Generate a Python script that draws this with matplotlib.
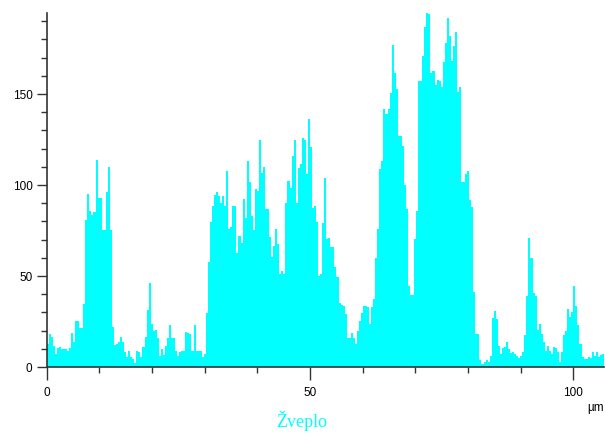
import matplotlib
matplotlib.use('Agg')
import matplotlib.pyplot as plt
import matplotlib.ticker as ticker
import numpy as np

# line scan, sulphur counts (left to right)
seg1 = [12.6, 18, 16.7, 11.7, 7.1, 10.3, 11, 10, 10, 10, 8.6, 10.3, 18.5, 13.9, 25, 25.5,
        21.6, 21.6, 34.6, 81, 95, 85.5, 83.7, 85, 113.7, 92.9, 92.9, 75.3, 75.3, 96, 109.7,
        75, 21.8, 12, 12.6, 14, 16.5, 14, 8, 5.3, 9, 5.3, 4.4, 2, 9, 8]
seg2 = [5.3, 11, 16.5, 31.5, 46, 23.6, 20, 20.3, 15.8, 6.2, 10, 6.8, 11.7, 15.8, 23, 15.8,
        15.8, 8.9, 6.2, 8, 8.6, 8.8, 19.4, 18.5, 18, 8.6, 23, 8.8, 8.8, 8.6, 5.3, 7, 29.7,
        57.5, 79.5, 88.6, 94.5, 96.3, 94.1, 90, 94, 88.3, 107.7, 75.8, 76.7, 88.6]
seg3 = [88.6, 62.6, 71.8, 68, 92.3, 81.9, 113, 101.8, 83, 75.3, 97.8, 96.9, 124.9, 106.6,
        109.7, 86.8, 86.8, 71.2, 60.3, 66.7, 75.8, 67.6, 51.1, 52.9, 51.1, 90.1, 102.4, 98.2,
        115.8, 124.9, 90.1, 109.2, 111.5, 125.6, 124.9, 106, 136.3, 120.7, 87.2, 88.6, 79.5,
        50.2, 51.1, 79.2, 103.7]
seg4 = [70.3, 70.7, 65.8, 65.8, 54.8, 49.3, 35.2, 34, 33.3, 29.1, 15.8, 15.8, 18.7, 15.8,
        12.6, 19.9, 25.5, 29.7, 33.7, 33.3, 32.8, 23.6, 32.8, 37.4, 59.7, 75.8, 108.8, 113.4,
        141.8, 139, 141.8, 150.4, 176.9, 161.5, 152.7, 126.8, 126.8, 121.3, 100, 86.8, 44.7,
        39.6, 39.6, 70.3, 85.9]
seg5 = [157.3, 157.3, 170.6, 186.6, 194.5, 193.9, 161.3, 162.8, 155, 157.9, 157, 154, 167.4,
        178, 191.6, 182, 168.3, 176.5, 183.9, 150.9, 153.7, 101.8, 101.8, 106, 107.9, 91.9,
        87.7, 41, 18.1, 18.1, 4, 1.6, 2.6, 4, 3, 6.2, 26.7, 30.9, 26.4, 11.7, 7.1, 10.3,
        10.8, 13.9]
seg6 = [9.9, 7.7, 8, 7.1, 6.2, 4.8, 6.2, 8.4, 17.6, 39.2, 70.7, 59.7, 40.7, 38.8, 20.5, 23.6,
        18.1, 13.5, 9, 11.7, 9, 7.1, 10.8, 10.3, 8.4, 2.9, 8.4, 17.6, 19.9, 31.9, 27.3, 30.4,
        44.7, 33.7, 23.1, 12.6, 5.3, 4.4, 4.2, 5.3, 4.8, 8, 6.2, 8.4, 5.3, 6.6, 7]

counts = np.array(seg1 + seg2 + seg3 + seg4 + seg5 + seg6)
scan_length = 105.8   # um
edges = np.linspace(0, scan_length, len(counts) + 1)

plt.rcParams['font.family'] = ['Liberation Sans', 'DejaVu Sans']

fig = plt.figure(figsize=(6.05, 4.35), dpi=100)
ax = fig.add_axes([46.5 / 605, 67 / 435, 557.5 / 605, 354 / 435])

ax.stairs(counts, edges, fill=True, color='#00ffff', linewidth=0)

ax.set_xlim(0, scan_length)
ax.set_ylim(0, 194.5)

for side in ['top', 'right']:
    ax.spines[side].set_visible(False)
for side in ['left', 'bottom']:
    ax.spines[side].set_color('#333333')
    ax.spines[side].set_linewidth(1.2)

ax.xaxis.set_major_locator(ticker.MultipleLocator(50))
ax.xaxis.set_minor_locator(ticker.MultipleLocator(10))
ax.yaxis.set_major_locator(ticker.MultipleLocator(50))
ax.yaxis.set_minor_locator(ticker.MultipleLocator(10))
ax.tick_params(which='major', direction='out', length=7, width=1, color='#333333',
               labelsize=8.5, pad=3)
ax.tick_params(which='minor', direction='out', length=4, width=1, color='#333333')
ax.tick_params(axis='x', which='major', length=9, pad=5)

ax.text(1.0, -0.112, 'µm', transform=ax.transAxes, ha='right', va='center', fontsize=8.5)
fig.text(302 / 605, 1 - 421 / 435, 'Žveplo', ha='center', va='center', color='#00ffff',
         fontsize=13, family=['Liberation Serif', 'DejaVu Serif'])

fig.savefig('out.png', dpi=100)
